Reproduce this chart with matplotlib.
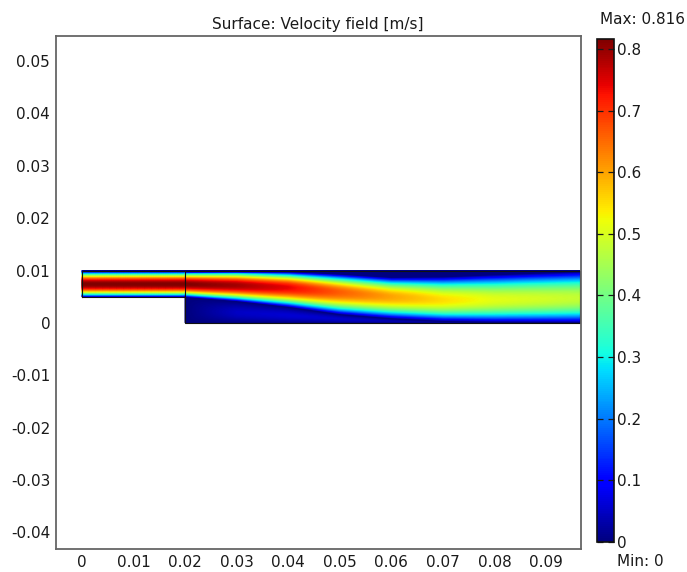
import numpy as np
import matplotlib
matplotlib.use("Agg")
import matplotlib.pyplot as plt
from matplotlib.colors import Normalize

# --- geometry of the backward-facing step channel [m] ---
inlet_x = [0.0, 0.02]
inlet_y = [0.005, 0.01]
outlet_x = [0.02, 0.0965]
outlet_y = [0.0, 0.01]

# --- jet description at stations along the channel ---
station_x = [0.02, 0.03, 0.04, 0.05, 0.06, 0.07, 0.08, 0.0965]
jet_center = [0.0075, 0.0073, 0.0069, 0.0060, 0.0051, 0.0045, 0.0045, 0.0048]
jet_halfwidth_top = [0.0025, 0.0028, 0.0030, 0.0034, 0.0037, 0.0044, 0.0048, 0.0051]
jet_halfwidth_bottom = [0.0025, 0.0031, 0.0038, 0.0043, 0.0042, 0.0041, 0.0043, 0.0047]
jet_peak = [0.816, 0.79, 0.74, 0.66, 0.60, 0.55, 0.51, 0.48]
recirc_speed = [0.0, 0.05, 0.06, 0.055, 0.035, 0.015, 0.0, 0.0]

v_min, v_max = 0.0, 0.816
cbar_ticks = [0, 0.1, 0.2, 0.3, 0.4, 0.5, 0.6, 0.7, 0.8]
cbar_ticklabels = ["0", "0.1", "0.2", "0.3", "0.4", "0.5", "0.6", "0.7", "0.8"]
x_ticks = [0, 0.01, 0.02, 0.03, 0.04, 0.05, 0.06, 0.07, 0.08, 0.09]
x_ticklabels = ["0", "0.01", "0.02", "0.03", "0.04", "0.05", "0.06", "0.07", "0.08", "0.09"]
y_ticks = [-0.04, -0.03, -0.02, -0.01, 0, 0.01, 0.02, 0.03, 0.04, 0.05]
y_ticklabels = ["-0.04", "-0.03", "-0.02", "-0.01", "0", "0.01", "0.02", "0.03", "0.04", "0.05"]


def speed_field(X, Y):
    c = np.interp(X, station_x, jet_center)
    ht = np.interp(X, station_x, jet_halfwidth_top)
    hb = np.interp(X, station_x, jet_halfwidth_bottom)
    pk = np.interp(X, station_x, jet_peak)
    rc = np.interp(X, station_x, recirc_speed)
    s = np.where(Y >= c, (Y - c) / ht, (c - Y) / hb)
    jet = pk * np.clip(1.0 - s ** 2, 0.0, None)
    # keep the no-slip walls at zero speed
    wall = np.clip(np.minimum(Y, outlet_y[1] - Y) / 0.0004, 0, 1)
    jet = jet * wall
    lower = np.maximum(c - hb, 1e-6)
    rec = np.where(Y < lower, rc * np.sin(np.pi * np.clip(Y / lower, 0, 1)), 0.0)
    return np.maximum(jet, rec)


fig = plt.figure(figsize=(6.87, 5.72), dpi=100)
ax = fig.add_axes([55.7 / 687, 23 / 572, 525 / 687, 513 / 572])
cmap = plt.get_cmap("jet")
norm = Normalize(v_min, v_max)

# inlet section: developed parabolic profile
xi = np.linspace(inlet_x[0], inlet_x[1], 60)
yi = np.linspace(inlet_y[0], inlet_y[1], 80)
Xi, Yi = np.meshgrid(xi, yi)
Ui = jet_peak[0] * np.clip(1 - ((Yi - jet_center[0]) / jet_halfwidth_top[0]) ** 2, 0, None)
ax.pcolormesh(Xi, Yi, Ui, cmap=cmap, norm=norm, shading="gouraud", rasterized=True)

# expanded section after the step
xo = np.linspace(outlet_x[0], outlet_x[1], 400)
yo = np.linspace(outlet_y[0], outlet_y[1], 160)
Xo, Yo = np.meshgrid(xo, yo)
Uo = speed_field(Xo, Yo)
ax.pcolormesh(Xo, Yo, Uo, cmap=cmap, norm=norm, shading="gouraud", rasterized=True)

# domain boundaries
bx = [inlet_x[0], inlet_x[1], outlet_x[0], outlet_x[1], outlet_x[1], inlet_x[0], inlet_x[0]]
by = [inlet_y[0], inlet_y[0], outlet_y[0], outlet_y[0], outlet_y[1], inlet_y[1], inlet_y[0]]
ax.plot(bx, by, color="#111111", lw=0.8, solid_joinstyle="miter")
ax.plot([inlet_x[1], inlet_x[1]], [inlet_y[0], inlet_y[1]], color="#111111", lw=0.8)

ax.set_xlim(-0.0051, 0.0967)
ax.set_ylim(-0.0432, 0.0548)
ax.set_xticks(x_ticks)
ax.set_xticklabels(x_ticklabels)
ax.set_yticks(y_ticks)
ax.set_yticklabels(y_ticklabels)
ax.tick_params(length=0, labelsize=11, pad=4, colors="#1a1a1a")
for sp in ax.spines.values():
    sp.set_color("#666666")
    sp.set_linewidth(1.3)
ax.set_title("Surface: Velocity field [m/s]", fontsize=11, color="#1a1a1a", pad=5)

# colorbar
cax = fig.add_axes([597 / 687, (572 - 542) / 572, 17 / 687, 503 / 572])
cb = fig.colorbar(plt.cm.ScalarMappable(norm=norm, cmap=cmap), cax=cax)
cb.set_ticks(cbar_ticks)
cb.set_ticklabels(cbar_ticklabels)
cb.outline.set_edgecolor("#111111")
cb.outline.set_linewidth(1.2)
cax.tick_params(direction="in", length=4, width=0.9, colors="#1a1a1a",
                labelsize=11, pad=2, left=True, right=True)
fig.text(642 / 687, 1 - 20 / 572, "Max: %.3f" % v_max, ha="center", va="center",
         fontsize=11, color="#1a1a1a")
fig.text(640 / 687, 1 - 561 / 572, "Min: %g" % v_min, ha="center", va="center",
         fontsize=11, color="#1a1a1a")

fig.savefig("out.png", dpi=100)
